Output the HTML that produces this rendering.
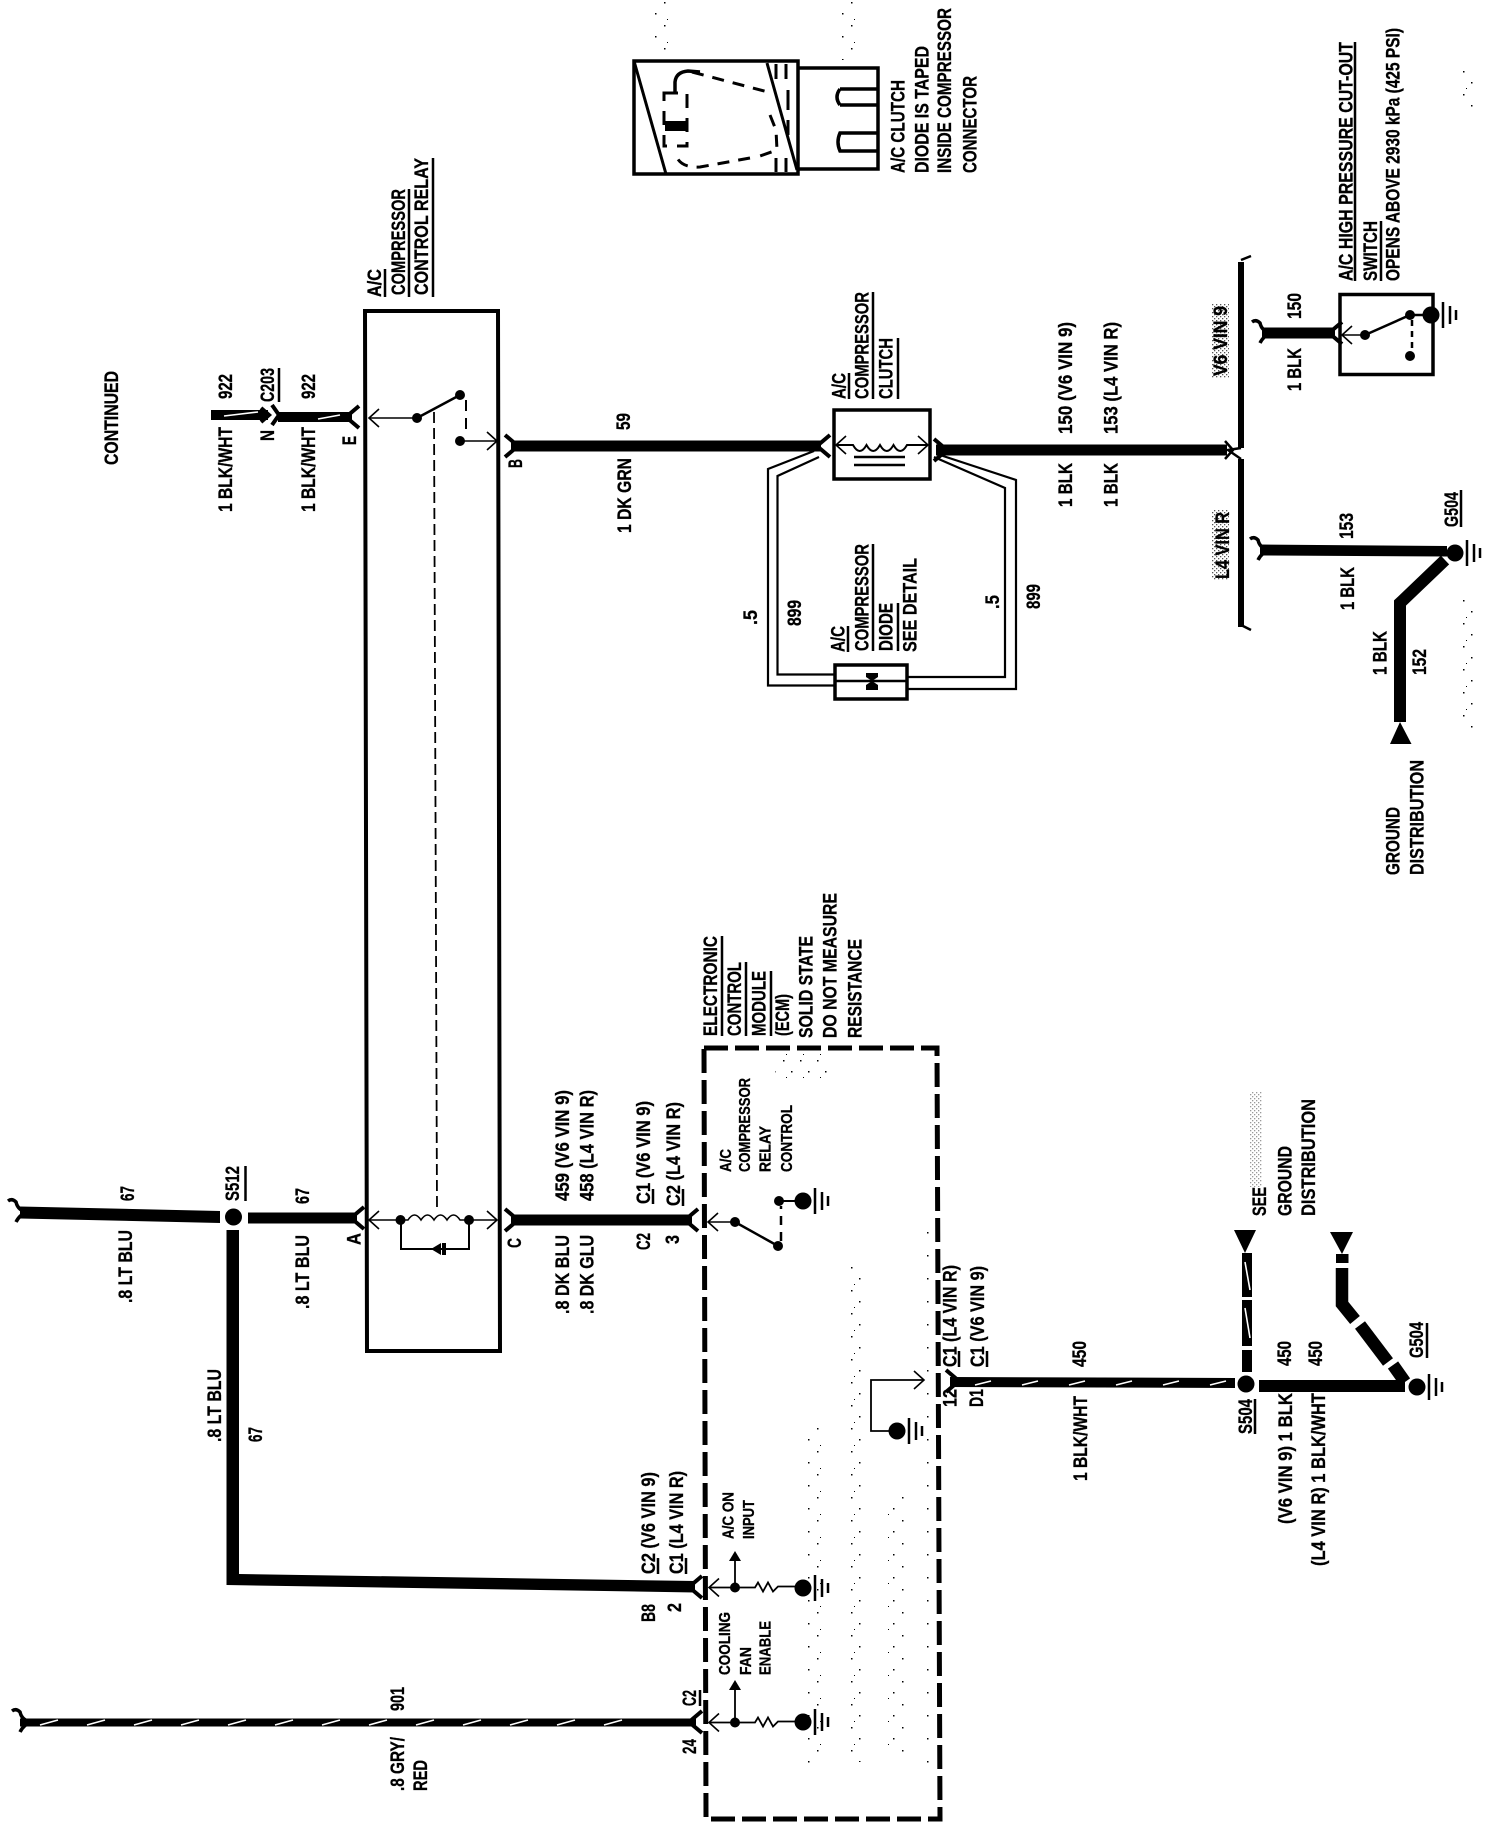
<!DOCTYPE html>
<html><head><meta charset="utf-8"><style>
html,body{margin:0;padding:0;background:#fff;width:1504px;height:1826px;overflow:hidden}
svg{display:block}
text{font-family:"Liberation Sans",sans-serif;font-weight:bold;font-size:19px;fill:#000;stroke:#000;stroke-width:.3}
text.s{font-size:16px}
.w{stroke:#000;fill:none;stroke-linejoin:miter}
.h{stroke:#fff;stroke-width:1.6;fill:none}
</style></head><body>
<svg width="1504" height="1826" viewBox="0 0 1504 1826" xmlns="http://www.w3.org/2000/svg">
<defs>
<path id="yr" d="M-7 0L6 -11M-7 0L6 11" stroke="#000" stroke-width="4" fill="none"/>
<path id="yl" d="M7 0L-6 -11M7 0L-6 11" stroke="#000" stroke-width="4" fill="none"/>
<path id="al" d="M10 -9L0 0L10 9" stroke="#000" stroke-width="1.6" fill="none"/>
<path id="ar" d="M-10 -9L0 0L-10 9" stroke="#000" stroke-width="1.6" fill="none"/>
<path id="curl" d="M10 0Q0 -1 -2 -10Q-6 -14 -10 -11M10 0Q2 2 -2 10" stroke="#000" stroke-width="3.5" fill="none"/>
<g id="gnd"><circle r="8.5" fill="#000"/><path d="M12 -13V13M19 -9V9M25 -5V5" stroke="#000" stroke-width="2.5" fill="none"/></g>
<pattern id="st" width="17" height="23" patternUnits="userSpaceOnUse"><rect x="1" y="2" width="1.5" height="1.5" fill="#000"/><rect x="9" y="13" width="1.5" height="1.5" fill="#000"/><rect x="4" y="19" width="1" height="1" fill="#000"/></pattern>
<pattern id="st2" width="4" height="4" patternUnits="userSpaceOnUse"><rect x="0" y="0" width="1.3" height="1.3" fill="#555"/><rect x="2" y="2" width="1.3" height="1.3" fill="#555"/></pattern>
</defs>
<rect width="1504" height="1826" fill="#fff"/>

<!-- stipple -->
<rect x="805" y="1425" width="17" height="338" fill="url(#st)"/>
<rect x="844" y="1262" width="17" height="500" fill="url(#st)"/>
<rect x="887" y="1495" width="17" height="262" fill="url(#st)"/>
<rect x="925" y="1228" width="10" height="535" fill="url(#st)"/>
<rect x="775" y="1050" width="55" height="30" fill="url(#st)"/>
<rect x="1212" y="304" width="17" height="74" fill="url(#st2)"/>
<rect x="1212" y="510" width="17" height="70" fill="url(#st2)"/>
<rect x="1250" y="1092" width="12" height="95" fill="url(#st2)" opacity=".6"/>
<rect x="652" y="0" width="17" height="58" fill="url(#st)"/>
<rect x="840" y="0" width="17" height="60" fill="url(#st)"/>
<rect x="1462" y="70" width="17" height="40" fill="url(#st)"/>
<rect x="1462" y="600" width="17" height="130" fill="url(#st)"/>

<!-- detail -->
<g class="w" stroke-width="3.5" fill="none">
<rect x="634" y="61" width="164" height="113"/>
<path d="M798 68H878V169H798"/>
<path d="M634 61L666 174M767 63L797 170" stroke-width="3"/>
<path d="M840 89H878M840 105H878M840 89Q834 97 840 105" stroke-width="3.5"/>
<path d="M878 133H840Q836 142 840 151H878" stroke-width="3.5"/>
<path d="M675 93V82Q676 72 688 71L700 72" stroke-width="3.5"/>
<path d="M692 72L768 92M770 115L776 130L777 150L760 156M750 158L700 167Q680 168 676 155" stroke-width="3" stroke-dasharray="12 9"/>
<path d="M664 93H687V146H664Z" stroke-width="3" stroke-dasharray="14 10"/>
<path d="M776 64V79M786 64V79M776 158V172M786 158V172M788 90V110M788 120V135" stroke-width="3"/>
</g>
<rect x="665" y="121" width="22" height="10" fill="#000"/>

<!-- relay box -->
<path class="w" stroke-width="4" d="M365 311H498L500 1351H367Z"/>
<path d="M434 412L437 1210" stroke="#000" stroke-width="1.8" stroke-dasharray="11 5" fill="none"/>
<use href="#al" x="369" y="418"/>
<path class="w" stroke-width="1.6" d="M369 418H417"/>
<circle cx="417" cy="418" r="5" fill="#000"/>
<path class="w" stroke-width="2.5" d="M417 418L460 395"/>
<circle cx="460" cy="395" r="5" fill="#000"/>
<path class="w" stroke-width="2" stroke-dasharray="11 7" d="M466 400V436"/>
<circle cx="460" cy="441" r="5" fill="#000"/>
<path class="w" stroke-width="1.6" d="M460 441H496"/>
<use href="#ar" x="497" y="441"/>
<!-- relay coil -->
<use href="#al" x="369" y="1220"/>
<use href="#ar" x="497" y="1220"/>
<path class="w" stroke-width="1.6" d="M369 1220H408q6.5 -10 13 0q6.5 -10 13 0q6.5 -10 13 0q6.5 -10 13 0H496"/>
<circle cx="400.5" cy="1220" r="5" fill="#000"/><circle cx="469" cy="1220" r="5" fill="#000"/>
<path class="w" stroke-width="2" d="M401 1220V1249H469V1220"/>
<path d="M431 1249L441 1243V1255ZM442 1243H446V1255H442Z" fill="#000"/>

<!-- 922 -->
<rect x="211" y="410" width="57" height="10" fill="#000"/>
<path d="M261 408L269 415L261 422" stroke="#000" stroke-width="4" fill="none"/>
<path d="M224 416L258 412" class="h"/>
<path d="M272 405L279 415L272 425" stroke="#000" stroke-width="4" fill="none"/>
<rect x="278" y="412" width="74" height="10" fill="#000"/>
<path d="M318 419L340 415" class="h"/>
<use href="#yr" x="353" y="417"/>

<!-- 59 -->
<rect x="511" y="440.5" width="310" height="11" fill="#000"/>
<use href="#yr" x="511" y="446" transform="rotate(180 511 446)"/>
<use href="#yr" x="824" y="446"/>
<!-- clutch -->
<rect x="834" y="410" width="96" height="69" fill="#fff" stroke="#000" stroke-width="3.5"/>
<use href="#al" x="836" y="445"/>
<use href="#ar" x="928" y="445"/>
<path class="w" stroke-width="2" d="M836 445H853q6.7 12 13.5 0q6.7 12 13.5 0q6.7 12 13.5 0q6.7 12 13.5 0H928"/>
<path class="w" stroke-width="2.5" d="M854 457H905M854 465H905"/>
<path d="M936 444.500L1227 444.500V455.500L936 455.500Z" fill="#000"/>
<use href="#yr" x="940" y="450" transform="rotate(180 940 450)"/>
<!-- bypass -->
<path class="w" stroke-width="2.2" d="M814 451L768 469V685.500H834M819 457L777.500 476V674.500H834"/>
<path class="w" stroke-width="2.2" d="M937 454L1016 480V689H906M934 457L1005 488V677H906"/>
<rect x="835" y="665" width="72" height="34" fill="#fff" stroke="#000" stroke-width="3.5"/>
<path class="w" stroke-width="2.5" d="M835 681H907"/>
<path d="M866 673H878V677L872 681L878 685V690H866V685L872 681L866 677Z" fill="#000"/>

<!-- bus -->
<path class="w" stroke-width="6" d="M1241 262V448M1241 459V627"/>
<path class="w" stroke-width="2.5" d="M1241 260L1251 256M1241 625L1251 630"/>
<path d="M1225 441L1233 450L1225 459M1241 448L1228 450L1241 459" stroke="#000" stroke-width="2.5" fill="none"/>
<!-- 150 -->
<rect x="1262" y="327.500" width="73" height="11" fill="#000"/>
<use href="#curl" x="1262" y="333"/>
<use href="#yr" x="1336" y="333"/>
<rect x="1340" y="294.500" width="93" height="80" fill="none" stroke="#000" stroke-width="3.500"/>
<use href="#al" x="1342" y="335"/>
<path class="w" stroke-width="1.6" d="M1342 335H1365"/>
<circle cx="1365" cy="335" r="5" fill="#000"/>
<path class="w" stroke-width="2.5" d="M1365 335L1410 315H1431"/>
<circle cx="1410" cy="315" r="5" fill="#000"/>
<path class="w" stroke-width="2.5" stroke-dasharray="6 5" d="M1412 320V352"/>
<circle cx="1410" cy="356" r="5" fill="#000"/>
<use href="#gnd" x="1431" y="315"/>
<!-- 153 -->
<path d="M1260 544.500L1447 546V556.500L1260 555.500Z" fill="#000"/>
<use href="#curl" x="1260" y="550"/>
<use href="#gnd" x="1455" y="553"/>
<path class="w" stroke-width="12" d="M1445 560L1400 603V722"/>
<path d="M1400 722L1411.500 744H1390Z" fill="#000"/>

<!-- 67 -->
<path d="M20 1206.500L220 1211V1223L20 1218.500Z" fill="#000"/>
<use href="#curl" x="18" y="1212"/>
<circle cx="233.500" cy="1217" r="8.500" fill="#000"/>
<rect x="248" y="1212.500" width="109" height="11" fill="#000"/>
<use href="#yr" x="358" y="1218"/>
<path d="M226.500 1230H239V1574L695 1581V1592.500L226.500 1585Z" fill="#000"/>
<use href="#yr" x="696" y="1587"/>
<!-- C wire -->
<rect x="511" y="1214.500" width="181" height="11" fill="#000"/>
<use href="#yr" x="511" y="1220" transform="rotate(180 511 1220)"/>
<use href="#yr" x="692" y="1220"/>

<!-- 901 -->
<rect x="20" y="1718.500" width="676" height="8" fill="#000"/>
<use href="#curl" x="22" y="1722"/>
<path d="M40 1725l18-5m29 5l18-5m29 5l18-5m29 5l18-5m29 5l18-5m29 5l18-5m29 5l18-5m29 5l18-5m29 5l18-5m29 5l18-5m29 5l18-5m29 5l18-5m29 5l18-5" class="h"/>
<use href="#yr" x="696" y="1722"/>

<!-- ECM -->
<path class="w" stroke-width="5" stroke-dasharray="24 7" d="M704 1048H937L940 1819H706Z"/>
<use href="#al" x="708" y="1222"/>
<path class="w" stroke-width="1.6" d="M708 1222H735"/>
<circle cx="735" cy="1222" r="5" fill="#000"/>
<path class="w" stroke-width="2.5" d="M735 1222L778 1246"/>
<circle cx="778" cy="1246" r="5" fill="#000"/>
<path class="w" stroke-width="2.5" stroke-dasharray="9 7" d="M781 1241V1206"/>
<circle cx="779" cy="1201" r="5" fill="#000"/>
<path class="w" stroke-width="2" d="M779 1201H803"/>
<use href="#gnd" x="803" y="1201"/>
<!-- AC on -->
<use href="#al" x="709" y="1587.500"/>
<path class="w" stroke-width="1.8" d="M709 1587.500H755l3 -5l5 9l5 -9l5 9l5 -5H803M735 1587.500V1558"/>
<circle cx="735" cy="1587.500" r="5" fill="#000"/>
<path d="M735 1551L741 1561H729Z" fill="#000"/>
<use href="#gnd" x="803" y="1588"/>
<!-- fan -->
<use href="#al" x="709" y="1722.500"/>
<path class="w" stroke-width="1.8" d="M709 1722.500H755l3 -5l5 9l5 -9l5 9l5 -5H803M735 1722.500V1688"/>
<circle cx="735" cy="1722.500" r="5" fill="#000"/>
<path d="M735 1680L741 1690H729Z" fill="#000"/>
<use href="#gnd" x="803" y="1722"/>
<!-- internal ground -->
<use href="#ar" x="924" y="1380"/>
<path class="w" stroke-width="1.8" d="M924 1380H871V1431H896"/>
<use href="#gnd" x="897" y="1431"/>

<!-- 450 -->
<use href="#yr" x="952" y="1381" transform="rotate(180 952 1381)"/>
<path d="M950 1377L1235 1378V1388L950 1387Z" fill="#000"/>
<path d="M975 1385l16-4m31 4l16-4m31 4l16-4m31 4l16-4m31 4l16-4m31 4l16-4" class="h"/>
<circle cx="1246" cy="1384" r="8.500" fill="#000"/>
<rect x="1259" y="1380" width="146" height="12" fill="#000"/>
<!-- see ground -->
<path d="M1234 1230H1256L1245 1253Z" fill="#000"/>
<rect x="1242" y="1253" width="10" height="44" fill="#000"/>
<rect x="1242" y="1300" width="10" height="46" fill="#000"/>
<rect x="1242" y="1350" width="10" height="22" fill="#000"/>
<path d="M1245 1262L1250 1290M1245 1308L1250 1338" class="h"/>
<path d="M1330 1232H1353L1342 1254Z" fill="#000"/>
<rect x="1336" y="1254" width="12.500" height="9" fill="#000"/>
<path d="M1342 1268V1304L1355 1320" class="w" stroke-width="12.500"/>
<path d="M1360 1325L1388 1362" class="w" stroke-width="12.500"/>
<path d="M1393 1365L1405 1382" class="w" stroke-width="12.500"/>
<use href="#gnd" x="1417" y="1387"/>

<!-- underlines -->
<g stroke="#000" stroke-width="2.500" fill="none">
<path d="M279 368V402M385 269V297M409 189V297M433 158V297"/>
<path d="M849 373V399M873 292V399M898 338V399"/>
<path d="M848 626V652M873 544V651M898 603V651"/>
<path d="M1355 42V281M1381 221V281M1461 490V527"/>
<path d="M245.500 1166V1201"/>
<path d="M722 936V1036M746 962V1036M771 971V1036"/>
<path d="M1255 1399V1434M1427 1323V1358"/>
<path d="M653 1189V1204M683 1189V1206"/>
<path d="M658 1558V1574M686 1558V1574M700 1690V1706"/>
<path d="M959 1351V1367M987 1351V1367"/>
</g>

<!-- labels -->
<text transform="translate(118 465)rotate(-90)" textLength="94" lengthAdjust="spacingAndGlyphs">CONTINUED</text>
<text transform="translate(232 399)rotate(-90)" textLength="25" lengthAdjust="spacingAndGlyphs">922</text>
<text transform="translate(232 512)rotate(-90)" textLength="85" lengthAdjust="spacingAndGlyphs">1 BLK/WHT</text>
<text transform="translate(274 402)rotate(-90)" textLength="34" lengthAdjust="spacingAndGlyphs">C203</text>
<text transform="translate(274 441)rotate(-90)" textLength="11" lengthAdjust="spacingAndGlyphs">N</text>
<text transform="translate(315 399)rotate(-90)" textLength="25" lengthAdjust="spacingAndGlyphs">922</text>
<text transform="translate(315 512)rotate(-90)" textLength="85" lengthAdjust="spacingAndGlyphs">1 BLK/WHT</text>
<text transform="translate(356 445)rotate(-90)" textLength="9" lengthAdjust="spacingAndGlyphs">E</text>
<text transform="translate(381 297)rotate(-90)" textLength="28" lengthAdjust="spacingAndGlyphs">A/C</text>
<text transform="translate(405 295)rotate(-90)" textLength="106" lengthAdjust="spacingAndGlyphs">COMPRESSOR</text>
<text transform="translate(428 295)rotate(-90)" textLength="137" lengthAdjust="spacingAndGlyphs">CONTROL RELAY</text>
<text transform="translate(522 468)rotate(-90)" textLength="9" lengthAdjust="spacingAndGlyphs">B</text>
<text transform="translate(630 430)rotate(-90)" textLength="17" lengthAdjust="spacingAndGlyphs">59</text>
<text transform="translate(631 533)rotate(-90)" textLength="75" lengthAdjust="spacingAndGlyphs">1 DK GRN</text>

<text transform="translate(904.500 173)rotate(-90)" textLength="93" lengthAdjust="spacingAndGlyphs">A/C CLUTCH</text>
<text transform="translate(928.500 173)rotate(-90)" textLength="127" lengthAdjust="spacingAndGlyphs">DIODE IS TAPED</text>
<text transform="translate(951 173)rotate(-90)" textLength="165" lengthAdjust="spacingAndGlyphs">INSIDE COMPRESSOR</text>
<text transform="translate(976.500 173)rotate(-90)" textLength="97" lengthAdjust="spacingAndGlyphs">CONNECTOR</text>

<text transform="translate(845.500 399)rotate(-90)" textLength="26" lengthAdjust="spacingAndGlyphs">A/C</text>
<text transform="translate(868.500 399)rotate(-90)" textLength="107" lengthAdjust="spacingAndGlyphs">COMPRESSOR</text>
<text transform="translate(892.500 399)rotate(-90)" textLength="61" lengthAdjust="spacingAndGlyphs">CLUTCH</text>
<text transform="translate(844.500 652)rotate(-90)" textLength="26" lengthAdjust="spacingAndGlyphs">A/C</text>
<text transform="translate(868.500 651)rotate(-90)" textLength="107" lengthAdjust="spacingAndGlyphs">COMPRESSOR</text>
<text transform="translate(892.500 651)rotate(-90)" textLength="48" lengthAdjust="spacingAndGlyphs">DIODE</text>
<text transform="translate(916.500 652)rotate(-90)" textLength="94" lengthAdjust="spacingAndGlyphs">SEE DETAIL</text>
<text transform="translate(757 625)rotate(-90)" textLength="15" lengthAdjust="spacingAndGlyphs">.5</text>
<text transform="translate(801 626)rotate(-90)" textLength="26" lengthAdjust="spacingAndGlyphs">899</text>
<text transform="translate(999 609)rotate(-90)" textLength="14" lengthAdjust="spacingAndGlyphs">.5</text>
<text transform="translate(1040 609)rotate(-90)" textLength="25" lengthAdjust="spacingAndGlyphs">899</text>
<text transform="translate(1072 434)rotate(-90)" textLength="112" lengthAdjust="spacingAndGlyphs">150 (V6 VIN 9)</text>
<text transform="translate(1072 507)rotate(-90)" textLength="44" lengthAdjust="spacingAndGlyphs">1 BLK</text>
<text transform="translate(1117.500 434)rotate(-90)" textLength="112" lengthAdjust="spacingAndGlyphs">153 (L4 VIN R)</text>
<text transform="translate(1117.500 507)rotate(-90)" textLength="44" lengthAdjust="spacingAndGlyphs">1 BLK</text>
<text transform="translate(1227 376)rotate(-90)" textLength="70" lengthAdjust="spacingAndGlyphs">V6 VIN 9</text>
<text transform="translate(1229 579)rotate(-90)" textLength="67" lengthAdjust="spacingAndGlyphs">L4 VIN R</text>
<text transform="translate(1301 319)rotate(-90)" textLength="26" lengthAdjust="spacingAndGlyphs">150</text>
<text transform="translate(1301 391)rotate(-90)" textLength="43" lengthAdjust="spacingAndGlyphs">1 BLK</text>
<text transform="translate(1352.500 281)rotate(-90)" textLength="239" lengthAdjust="spacingAndGlyphs">A/C HIGH PRESSURE CUT-OUT</text>
<text transform="translate(1377 281)rotate(-90)" textLength="60" lengthAdjust="spacingAndGlyphs">SWITCH</text>
<text transform="translate(1399.500 281)rotate(-90)" textLength="253" lengthAdjust="spacingAndGlyphs">OPENS ABOVE 2930 kPa (425 PSI)</text>
<text transform="translate(1353 539)rotate(-90)" textLength="26" lengthAdjust="spacingAndGlyphs">153</text>
<text transform="translate(1354 610)rotate(-90)" textLength="43" lengthAdjust="spacingAndGlyphs">1 BLK</text>
<text transform="translate(1458 527)rotate(-90)" textLength="35" lengthAdjust="spacingAndGlyphs">G504</text>
<text transform="translate(1386.500 675)rotate(-90)" textLength="44" lengthAdjust="spacingAndGlyphs">1 BLK</text>
<text transform="translate(1426 675)rotate(-90)" textLength="26" lengthAdjust="spacingAndGlyphs">152</text>
<text transform="translate(1399.500 875)rotate(-90)" textLength="68" lengthAdjust="spacingAndGlyphs">GROUND</text>
<text transform="translate(1423.500 875)rotate(-90)" textLength="115" lengthAdjust="spacingAndGlyphs">DISTRIBUTION</text>

<text transform="translate(134 1201)rotate(-90)" textLength="15" lengthAdjust="spacingAndGlyphs">67</text>
<text transform="translate(132 1303)rotate(-90)" textLength="73" lengthAdjust="spacingAndGlyphs">.8 LT BLU</text>
<text transform="translate(239 1201)rotate(-90)" textLength="35" lengthAdjust="spacingAndGlyphs">S512</text>
<text transform="translate(309 1204)rotate(-90)" textLength="16" lengthAdjust="spacingAndGlyphs">67</text>
<text transform="translate(309 1309)rotate(-90)" textLength="74" lengthAdjust="spacingAndGlyphs">.8 LT BLU</text>
<text transform="translate(360.500 1245)rotate(-90)" textLength="12" lengthAdjust="spacingAndGlyphs">A</text>
<text transform="translate(521 1248)rotate(-90)" textLength="10" lengthAdjust="spacingAndGlyphs">C</text>
<text transform="translate(569 1201)rotate(-90)" textLength="111" lengthAdjust="spacingAndGlyphs">459 (V6 VIN 9)</text>
<text transform="translate(569 1314)rotate(-90)" textLength="79" lengthAdjust="spacingAndGlyphs">.8 DK BLU</text>
<text transform="translate(593.500 1201)rotate(-90)" textLength="111" lengthAdjust="spacingAndGlyphs">458 (L4 VIN R)</text>
<text transform="translate(593.500 1314)rotate(-90)" textLength="79" lengthAdjust="spacingAndGlyphs">.8 DK GLU</text>
<text transform="translate(650 1204)rotate(-90)" textLength="103" lengthAdjust="spacingAndGlyphs">C1 (V6 VIN 9)</text>
<text transform="translate(680 1206)rotate(-90)" textLength="104" lengthAdjust="spacingAndGlyphs">C2 (L4 VIN R)</text>
<text transform="translate(650 1250)rotate(-90)" textLength="17" lengthAdjust="spacingAndGlyphs">C2</text>
<text transform="translate(679 1244)rotate(-90)" textLength="9" lengthAdjust="spacingAndGlyphs">3</text>
<text transform="translate(262 1442)rotate(-90)" textLength="15" lengthAdjust="spacingAndGlyphs">67</text>
<text transform="translate(221 1442)rotate(-90)" textLength="73" lengthAdjust="spacingAndGlyphs">.8 LT BLU</text>
<text transform="translate(655 1574)rotate(-90)" textLength="102" lengthAdjust="spacingAndGlyphs">C2 (V6 VIN 9)</text>
<text transform="translate(683 1574)rotate(-90)" textLength="103" lengthAdjust="spacingAndGlyphs">C1 (L4 VIN R)</text>
<text transform="translate(655 1622)rotate(-90)" textLength="18" lengthAdjust="spacingAndGlyphs">B8</text>
<text transform="translate(681 1612)rotate(-90)" textLength="9" lengthAdjust="spacingAndGlyphs">2</text>
<text transform="translate(696 1706)rotate(-90)" textLength="16" lengthAdjust="spacingAndGlyphs">C2</text>
<text transform="translate(696 1754)rotate(-90)" textLength="15" lengthAdjust="spacingAndGlyphs">24</text>
<text transform="translate(404 1711)rotate(-90)" textLength="24" lengthAdjust="spacingAndGlyphs">901</text>
<text transform="translate(404 1791)rotate(-90)" textLength="54" lengthAdjust="spacingAndGlyphs">.8 GRY/</text>
<text transform="translate(427 1791)rotate(-90)" textLength="31" lengthAdjust="spacingAndGlyphs">RED</text>

<text transform="translate(717 1036)rotate(-90)" textLength="100" lengthAdjust="spacingAndGlyphs">ELECTRONIC</text>
<text transform="translate(741 1036)rotate(-90)" textLength="74" lengthAdjust="spacingAndGlyphs">CONTROL</text>
<text transform="translate(765.500 1036)rotate(-90)" textLength="65" lengthAdjust="spacingAndGlyphs">MODULE</text>
<text transform="translate(789 1036)rotate(-90)" textLength="42" lengthAdjust="spacingAndGlyphs">(ECM)</text>
<text transform="translate(812.500 1038)rotate(-90)" textLength="102" lengthAdjust="spacingAndGlyphs">SOLID STATE</text>
<text transform="translate(836.500 1038)rotate(-90)" textLength="145" lengthAdjust="spacingAndGlyphs">DO NOT MEASURE</text>
<text transform="translate(861.500 1038)rotate(-90)" textLength="99" lengthAdjust="spacingAndGlyphs">RESISTANCE</text>

<text class="s" transform="translate(731 1172)rotate(-90)" textLength="23" lengthAdjust="spacingAndGlyphs">A/C</text>
<text class="s" transform="translate(750 1172)rotate(-90)" textLength="94" lengthAdjust="spacingAndGlyphs">COMPRESSOR</text>
<text class="s" transform="translate(770.500 1172)rotate(-90)" textLength="46" lengthAdjust="spacingAndGlyphs">RELAY</text>
<text class="s" transform="translate(792 1172)rotate(-90)" textLength="67" lengthAdjust="spacingAndGlyphs">CONTROL</text>
<text class="s" transform="translate(733.500 1539)rotate(-90)" textLength="47" lengthAdjust="spacingAndGlyphs">A/C ON</text>
<text class="s" transform="translate(754 1539)rotate(-90)" textLength="39" lengthAdjust="spacingAndGlyphs">INPUT</text>
<text class="s" transform="translate(730 1675)rotate(-90)" textLength="63" lengthAdjust="spacingAndGlyphs">COOLING</text>
<text class="s" transform="translate(751 1675)rotate(-90)" textLength="28" lengthAdjust="spacingAndGlyphs">FAN</text>
<text class="s" transform="translate(770.500 1675)rotate(-90)" textLength="54" lengthAdjust="spacingAndGlyphs">ENABLE</text>

<text transform="translate(956.500 1367)rotate(-90)" textLength="102" lengthAdjust="spacingAndGlyphs">C1 (L4 VIN R)</text>
<text transform="translate(984 1367)rotate(-90)" textLength="101" lengthAdjust="spacingAndGlyphs">C1 (V6 VIN 9)</text>
<text transform="translate(956.500 1407)rotate(-90)" textLength="18" lengthAdjust="spacingAndGlyphs">12</text>
<text transform="translate(983 1407)rotate(-90)" textLength="18" lengthAdjust="spacingAndGlyphs">D1</text>
<text transform="translate(1086 1367)rotate(-90)" textLength="26" lengthAdjust="spacingAndGlyphs">450</text>
<text transform="translate(1087 1481)rotate(-90)" textLength="85" lengthAdjust="spacingAndGlyphs">1 BLK/WHT</text>
<text transform="translate(1252 1434)rotate(-90)" textLength="35" lengthAdjust="spacingAndGlyphs">S504</text>
<text transform="translate(1291 1366)rotate(-90)" textLength="25" lengthAdjust="spacingAndGlyphs">450</text>
<text transform="translate(1292 1524)rotate(-90)" textLength="131" lengthAdjust="spacingAndGlyphs">(V6 VIN 9) 1 BLK</text>
<text transform="translate(1322 1366)rotate(-90)" textLength="25" lengthAdjust="spacingAndGlyphs">450</text>
<text transform="translate(1325 1566)rotate(-90)" textLength="173" lengthAdjust="spacingAndGlyphs">(L4 VIN R) 1 BLK/WHT</text>
<text transform="translate(1266 1216)rotate(-90)" textLength="29" lengthAdjust="spacingAndGlyphs">SEE</text>
<text transform="translate(1291.500 1216)rotate(-90)" textLength="70" lengthAdjust="spacingAndGlyphs">GROUND</text>
<text transform="translate(1315 1216)rotate(-90)" textLength="117" lengthAdjust="spacingAndGlyphs">DISTRIBUTION</text>
<text transform="translate(1423 1358)rotate(-90)" textLength="36" lengthAdjust="spacingAndGlyphs">G504</text>
</svg>
</body></html>
